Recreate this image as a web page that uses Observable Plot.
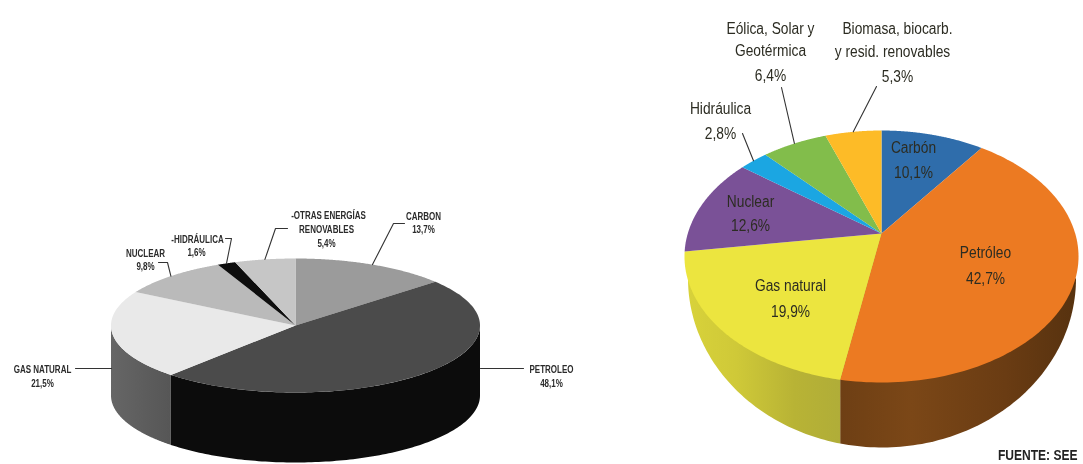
<!DOCTYPE html>
<html>
<head>
<meta charset="utf-8">
<script src="https://cdn.jsdelivr.net/npm/d3@7"></script>
<script src="https://cdn.jsdelivr.net/npm/@observablehq/plot@0.6"></script>
<style>
html,body{margin:0;padding:0;background:#fff;overflow:hidden}
svg{display:block;filter:blur(0.45px)}
</style>
</head>
<body>
<div id="chart"></div>
<script>
// ---- data ----
const leftNames = ["CARBON", "PETROLEO", "GAS NATURAL", "NUCLEAR", "-HIDRÁULICA", "-OTRAS ENERGÍAS\nRENOVABLES"];
const leftShares = [13.7, 48.1, 21.5, 9.8, 1.6, 5.4];
const rightNames = ["Carbón", "Petróleo", "Gas natural", "Nuclear", "Hidráulica", "Eólica, Solar y\nGeotérmica", "Biomasa, biocarb.\ny resid. renovables"];
const rightShares = [10.1, 42.7, 19.9, 12.6, 2.8, 6.4, 5.3];
const source = "FUENTE: SEE";

// ---- styles ----
const leftColors = ["#9b9b9b", "#4b4b4b", "#e9e9e9", "#bababa", "#0e0e0e", "#c6c6c6"];
const rightColors = ["#2f6dab", "#ec7a22", "#ece53f", "#7a5197", "#1ba6e2", "#82bd4b", "#fdbb27"];
const labelFont = "'Liberation Sans',sans-serif";
const squeeze = {"10": 0.8, "16": 0.86, "14": 0.86};

// ---- layout (pixel frame of the page) ----
const leftPie = {cx: 295, cy: 325, rx: 184.5, ry: 67, depth: 70};
const rightPie = {cx: 881, cy: 233, a: 121.8, b: 193.7, k: 0.1827, foot: {cx: 881.5, cy: 278, rx: 194, ry: 169}};

const leftLabelAt = [
  {x: [423, 423], y: [216, 229], elbow: [[404, 223], [393, 223]]},
  {x: [551, 551], y: [369, 383], line: [[480, 368], [523, 368]]},
  {x: [42, 42], y: [369, 383], line: [[75, 368], [111, 368]]},
  {x: [145, 145], y: [253, 266], elbow: [[158, 262], [167, 262]]},
  {x: [197, 196], y: [239, 252], elbow: [[225, 238], [231, 238]]},
  {x: [328, 326, 326], y: [215, 229, 243], elbow: [[287, 228], [275, 228]]}
];
const rightLabelAt = [
  {x: [913, 913], y: [147, 172]},
  {x: [985, 985], y: [252, 278]},
  {x: [790, 790], y: [285, 311]},
  {x: [750, 750], y: [201, 225]},
  {x: [720, 720], y: [108, 133], elbow: [[742, 133]]},
  {x: [770, 770, 770], y: [28, 50, 75], elbow: [[781, 87]]},
  {x: [897, 892, 897], y: [28, 51, 76], elbow: [[876, 86]]}
];

// ---- geometry from the shares ----
const fracs = shares => {
  let c = 0;
  return shares.map((s, i) => {
    const f = [c / 100, i === shares.length - 1 ? 1 : (c + s) / 100];
    c += s;
    return f;
  });
};
const leftRim = f => {
  const t = f * 2 * Math.PI;
  return [leftPie.cx + leftPie.rx * Math.sin(t), leftPie.cy - leftPie.ry * Math.cos(t)];
};
const rightRim = f => {
  const t = f * 2 * Math.PI, u = Math.sin(t), v = Math.cos(t), d = 1 + rightPie.k * v;
  return [rightPie.cx + rightPie.b * u / d, rightPie.cy - rightPie.a * v / d];
};
const arc = (rim, f0, f1) => d3.range(0, 121).map(i => rim(f0 + (f1 - f0) * i / 120));
const wedge = (rim, cx, cy, f) => [[cx, cy], ...arc(rim, f[0], f[1])].map(([x, y]) => ({x, y}));
const toRows = pts => pts.map(([x, y]) => ({x, y}));

const leftF = fracs(leftShares), rightF = fracs(rightShares);

// left walls: rim from the front going down by the depth
const lowered = pts => pts.map(([x, y]) => [x, y + leftPie.depth]).reverse();
const lWall = (f0, f1) => { const a = arc(leftRim, f0, f1); return toRows([...a, ...lowered(a)]); };

// right walls: rim plus the lower outline
const foot = rightPie.foot;
const footAt = t => [foot.cx + foot.rx * Math.cos(t), foot.cy + foot.ry * Math.sin(t)];
const split = rightRim(rightF[1][1]);
const tSplit = Math.acos((split[0] - foot.cx) / foot.rx);
const footPts = (t0, t1) => d3.range(0, 81).map(i => footAt(t0 + (t1 - t0) * i / 80));
const apex = [rightPie.cx, rightPie.cy];
const brownWall = toRows([apex, ...footPts(0, tSplit), split]);
const yellowWall = toRows([split, ...footPts(tSplit, Math.PI), apex]);

// ---- labels ----
const pct = s => s.toFixed(1).replace(".", ",") + "%";
const labelRows = (names, shares, at) => names.flatMap((n, i) =>
  [...n.split("\n"), pct(shares[i])].map((text, j) => ({text, x: at[i].x[j], y: at[i].y[j]})));
const mid = f => (f[0] + f[1]) / 2;

const gradient = (id, stops) =>
  `<linearGradient id="${id}" x1="0" x2="1" y1="0" y2="0">` +
  stops.map(([o, c]) => `<stop offset="${o}" stop-color="${c}"/>`).join("") + `</linearGradient>`;
const defs = () => {
  const g = d3.create("svg:defs");
  g.html(
    gradient("wallYellow", [[0, "#d8d23a"], [0.25, "#cfc938"], [0.55, "#b8b335"], [1, "#a9a83b"]]) +
    gradient("wallBrown", [[0, "#6e3f14"], [0.3, "#7b4717"], [0.7, "#6a3c13"], [1, "#57320f"]]) +
    gradient("wallGray", [[0, "#666666"], [1, "#565656"]])
  );
  return g.node();
};

const leaderStroke = {stroke: "#333", strokeWidth: 1.1};
const marks = [defs];

// left pie
marks.push(Plot.line(lWall(0.25, leftF[1][1]), {x: "x", y: "y", fill: "#0c0c0c", stroke: "none"}));
marks.push(Plot.line(lWall(leftF[1][1], 0.75), {x: "x", y: "y", fill: "url(#wallGray)", stroke: "none"}));
leftF.forEach((f, i) => marks.push(Plot.line(wedge(leftRim, leftPie.cx, leftPie.cy, f), {x: "x", y: "y", fill: leftColors[i], stroke: "none"})));
leftLabelAt.forEach((l, i) => {
  const pts = l.line ? l.line : [...l.elbow, leftRim(mid(leftF[i]))];
  marks.push(Plot.line(toRows(pts), {x: "x", y: "y", ...leaderStroke}));
});
marks.push(Plot.text(labelRows(leftNames, leftShares, leftLabelAt), {
  x: "x", y: "y", text: "text", fontFamily: labelFont,
  fontWeight: "bold", fontSize: 10, fill: "#2b2b2b", textAnchor: "middle", lineAnchor: "middle"
}));

// right pie
marks.push(Plot.line(brownWall, {x: "x", y: "y", fill: "url(#wallBrown)", stroke: "none"}));
marks.push(Plot.line(yellowWall, {x: "x", y: "y", fill: "url(#wallYellow)", stroke: "none"}));
rightF.forEach((f, i) => marks.push(Plot.line(wedge(rightRim, rightPie.cx, rightPie.cy, f), {x: "x", y: "y", fill: rightColors[i], stroke: "none"})));
rightLabelAt.forEach((l, i) => {
  if (!l.elbow) return;
  const pts = [...l.elbow, rightRim(mid(rightF[i]))];
  marks.push(Plot.line(toRows(pts), {x: "x", y: "y", ...leaderStroke}));
});
marks.push(Plot.text(labelRows(rightNames, rightShares, rightLabelAt), {
  x: "x", y: "y", text: "text", fontFamily: labelFont,
  fontSize: 16, fill: "#2c2c22", textAnchor: "middle", lineAnchor: "middle"
}));
marks.push(Plot.text([source], {
  x: [1077], y: [455], text: d => d, fontFamily: labelFont,
  fontWeight: "bold", fontSize: 14, fill: "#222", textAnchor: "end", lineAnchor: "middle"
}));

const chart = Plot.plot({
  width: 1083, height: 464, margin: 0,
  x: {domain: [0, 1083], range: [0, 1083], axis: null},
  y: {domain: [0, 464], range: [0, 464], axis: null},
  style: {background: "#fff"},
  marks
});
document.getElementById("chart").append(chart);

// condense the label faces: no narrow family is installed
chart.querySelectorAll("text").forEach(t => {
  const size = parseFloat(t.closest("[font-size]").getAttribute("font-size"));
  const r = squeeze[String(size)];
  if (!r) return;
  t.setAttribute("textLength", t.getComputedTextLength() * r);
  t.setAttribute("lengthAdjust", "spacingAndGlyphs");
});
</script>
</body>
</html>
